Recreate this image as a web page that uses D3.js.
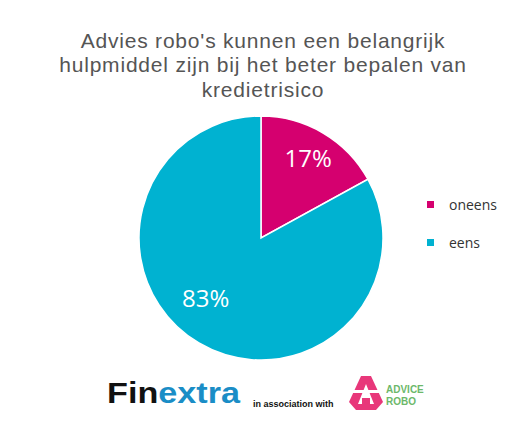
<!DOCTYPE html>
<html><head><meta charset="utf-8">
<script src="https://cdn.jsdelivr.net/npm/d3@7"></script>
<style>body{margin:0;background:#fff}svg{display:block}</style>
</head><body>
<svg id="c" width="530" height="430"></svg>
<script>
const categories = ["oneens", "eens"];
const values = [17, 83];
const colors = ["#d5006f", "#00b2d1"];
const titleLines = ["Advies robo's kunnen een belangrijk", "hulpmiddel zijn bij het beter bepalen van", "kredietrisico"];

const svg = d3.select("#c");
const font = "'Open Sans', 'DejaVu Sans', sans-serif";
svg.append("rect").attr("width",530).attr("height",430).attr("fill","#fff");

svg.append("g").selectAll("text").data(titleLines).join("text")
  .attr("x", 263).attr("y", (d,i)=>47.5+i*24.5)
  .attr("text-anchor","middle").attr("font-family","'Liberation Sans', Arial, sans-serif").attr("font-size",21)
  .attr("letter-spacing",0.8)
  .attr("fill","#555").text(d=>d);

const cx = 261, cy = 238, r = 122;
const pie = d3.pie().sort(null).value(d=>d)(values);
const arc = d3.arc().innerRadius(0).outerRadius(r);
const g = svg.append("g").attr("transform",`translate(${cx},${cy})`);
g.selectAll("path").data(pie).join("path")
  .attr("d",arc).attr("fill",(d,i)=>colors[i])
  .attr("stroke","#fff").attr("stroke-width",1.5);
const labelR = [0.76, 0.67], labelShift = [0, 0.21];
g.selectAll("text").data(pie).join("text")
  .attr("transform",(d,i)=>{
    const a = (d.startAngle + d.endAngle)/2 + labelShift[i];
    const rr = r*labelR[i];
    return `translate(${Math.sin(a)*rr},${-Math.cos(a)*rr})`;})
  .attr("text-anchor","middle").attr("dy","0.35em")
  .attr("font-family",font).attr("font-size",24).attr("fill","#fff")
  .text(d=>d.data+"%");

const lg = svg.append("g");
categories.forEach((c,i)=>{
  const y = 205 + i*38;
  lg.append("rect").attr("x",427).attr("y",y-4).attr("width",7).attr("height",7).attr("fill",colors[i]);
  lg.append("text").attr("x",449).attr("y",y+5).attr("font-family",font).attr("font-size",14).attr("fill","#333").text(c);
});

// Footer logos
const ft = svg.append("text").attr("x",107).attr("y",403).attr("font-family","'Liberation Sans', Arial, sans-serif").attr("font-size",29).attr("font-weight","bold")
  .attr("textLength",133).attr("lengthAdjust","spacingAndGlyphs");
ft.append("tspan").attr("fill","#111").text("Fin");
ft.append("tspan").attr("fill","#1a8dc6").text("extra");
svg.append("text").attr("x",253).attr("y",407).attr("font-family","'Liberation Sans', Arial, sans-serif").attr("font-size",9).attr("font-weight","bold").attr("fill","#111").text("in association with");
const logo = svg.append("g").attr("transform","translate(366,394)");
logo.append("path").attr("d","M-5,-18 L5,-18 L17,8 L10,16 L-10,16 L-17,8 Z").attr("fill","#e8377a");
logo.append("path").attr("d","M0,-10 L-8,10 L8,10 Z").attr("fill","#fff");
logo.append("rect").attr("x",-17).attr("y",-4).attr("width",34).attr("height",3).attr("fill","#fff");
logo.append("rect").attr("x",-4).attr("y",4).attr("width",8).attr("height",6).attr("fill","#e8377a");
svg.append("text").attr("x",386).attr("y",393).attr("font-family","'Liberation Sans', Arial, sans-serif").attr("font-size",10).attr("font-weight","bold").attr("fill","#6cb86a").text("ADVICE");
svg.append("text").attr("x",386).attr("y",405).attr("font-family","'Liberation Sans', Arial, sans-serif").attr("font-size",10).attr("font-weight","bold").attr("fill","#6cb86a").text("ROBO");
</script>
</body></html>
